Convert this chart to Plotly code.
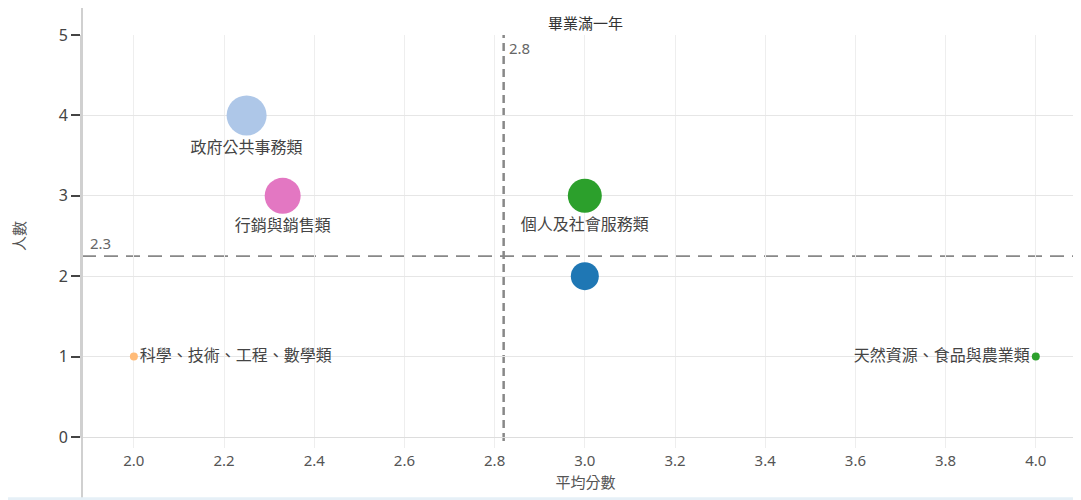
import math
import plotly.graph_objects as go

# ---- data ----
categories = ["政府公共事務類", "行銷與銷售類", "個人及社會服務類", "", "科學、技術、工程、數學類", "天然資源、食品與農業類"]
avg_score = [2.25, 2.33, 3.0, 3.0, 2.0, 4.0]
head_count = [4, 3, 3, 2, 1, 1]
bubble_size = [40, 36, 34, 28, 8, 8]
colors = ["#aec7e8", "#e377c2", "#2ca02c", "#1f77b4", "#ffbb78", "#2ca02c"]
label_pos = ["bottom center", "bottom center", "bottom center", "bottom center", "middle right", "middle left"]
mean_score = 2.82
mean_count = 2.25
facet_title = "畢業滿一年"
x_title = "平均分數"
y_title = "人數"
x_ticks = [2.0, 2.2, 2.4, 2.6, 2.8, 3.0, 3.2, 3.4, 3.6, 3.8, 4.0]
y_ticks = [0, 1, 2, 3, 4, 5]


def fmt1(v):
    return f"{math.floor(v * 10 + 0.5) / 10:.1f}"


FONT = "Noto Sans CJK TC, Noto Sans, sans-serif"

fig = go.Figure()
fig.add_trace(go.Scatter(
    x=avg_score, y=head_count, mode="markers+text",
    text=categories,
    textposition=label_pos,
    textfont=dict(family=FONT, size=16, color="#444"),
    marker=dict(size=bubble_size, color=colors, opacity=1, line=dict(width=0)),
    hoverinfo="x+y+text", showlegend=False,
    cliponaxis=False,
))

# reference lines
fig.add_shape(type="line", xref="x", yref="paper", x0=mean_score, x1=mean_score, y0=-0.01, y1=1,
              line=dict(color="#888", width=2.5, dash="8px,5px"), layer="below")
fig.add_shape(type="line", xref="paper", yref="y", x0=0, x1=1, y0=mean_count, y1=mean_count,
              line=dict(color="#888", width=1.6, dash="14px,8px"), layer="below")
fig.add_annotation(x=mean_score, y=1, xref="x", yref="paper", text=fmt1(mean_score),
                   showarrow=False, xanchor="left", yanchor="top", xshift=3, yshift=-1,
                   font=dict(family="Noto Sans", size=15, color="#666"))
fig.add_annotation(x=0, y=mean_count, xref="paper", yref="y", text=fmt1(mean_count),
                   showarrow=False, xanchor="left", yanchor="bottom", xshift=6, yshift=1,
                   font=dict(family="Noto Sans", size=15, color="#666"))

# facet header
fig.add_annotation(x=0.5, y=1.032, xref="paper", yref="paper", text=facet_title, showarrow=False,
                   xanchor="center", yanchor="middle", font=dict(family=FONT, size=15, color="#333"))
# decorative axis extension / bottom band
fig.add_shape(type="line", xref="paper", yref="paper", x0=0, x1=0, y0=-0.157, y1=1.07,
              line=dict(color="#d0d0d0", width=2))
fig.add_shape(type="rect", xref="paper", yref="paper", x0=-0.09, x1=1.01, y0=-0.157, y1=-0.150,
              line=dict(width=0), fillcolor="#e6f0f7")

fig.update_layout(
    width=1081, height=500,
    margin=dict(l=74, r=0, t=27, b=71),
    plot_bgcolor="white", paper_bgcolor="white",
    font=dict(family=FONT, color="#555"),
    xaxis=dict(range=[1.885, 4.118], tickvals=x_ticks, ticktext=[f"{t:.1f}" for t in x_ticks],
               showgrid=True, gridcolor="#eeeeee", gridwidth=1, zeroline=False,
               showline=True, linecolor="#dddddd", linewidth=1,
               ticks="outside", ticklen=10, tickcolor="#eeeeee",
               tickfont=dict(family="Noto Sans", size=15, color="#555"),
               title=dict(text=x_title, font=dict(family=FONT, size=15, color="#555"), standoff=8)),
    yaxis=dict(range=[0, 5], tickvals=y_ticks,
               showgrid=True, gridcolor="#e6e6e6", gridwidth=1, zeroline=False,
               showline=True, linecolor="#d0d0d0", linewidth=2,
               ticks="outside", ticklen=9, tickcolor="#444", tickwidth=2,
               tickfont=dict(family="Noto Sans", size=16, color="#444"),
               title=dict(text=y_title, font=dict(family=FONT, size=15, color="#555"), standoff=30)),
)

fig.write_html("out.html")
